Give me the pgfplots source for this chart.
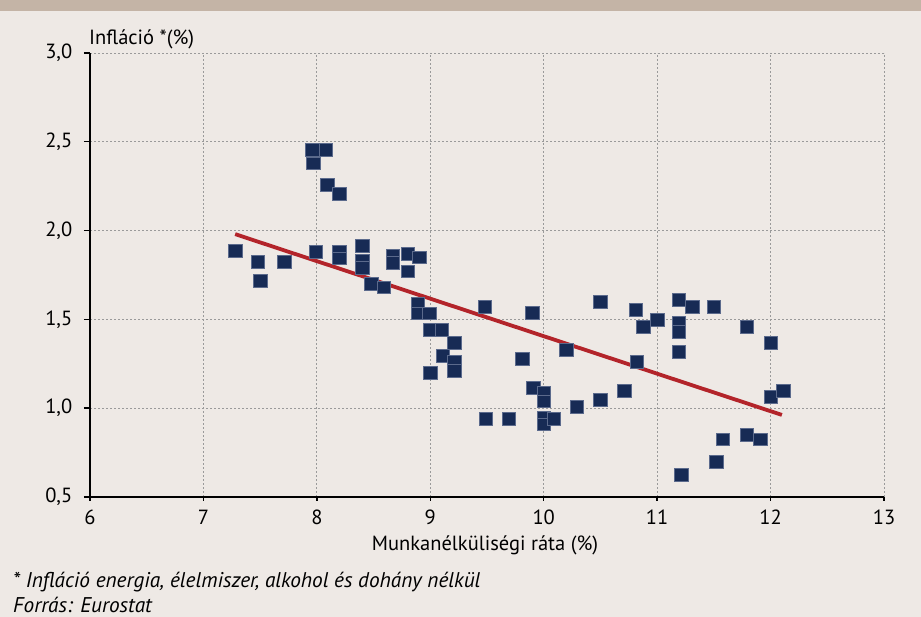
\documentclass[border=0pt]{standalone}
\usepackage{pgfplots}
\pgfplotsset{compat=1.18}
\usepackage{fontspec}
\setmainfont{PT Sans}
\definecolor{bg}{HTML}{EEE9E5}
\definecolor{band}{HTML}{C4B4A6}
\definecolor{navy}{HTML}{172B55}
\definecolor{navyedge}{HTML}{5B6A8C}
\definecolor{redline}{HTML}{B3242A}
\definecolor{gridc}{HTML}{9A9A9A}
\pgfplotstableread{
x y
7.28 1.885
7.48 1.823
7.50 1.716
7.71 1.823
7.96 2.454
8.08 2.454
7.97 2.38
8.09 2.257
8.20 2.206
7.99 1.88
8.20 1.88
8.20 1.845
8.40 1.913
8.40 1.834
8.40 1.79
8.67 1.86
8.67 1.82
8.80 1.87
8.90 1.85
8.80 1.77
8.48 1.70
8.59 1.68
8.89 1.59
8.89 1.535
8.99 1.535
9.00 1.44
9.10 1.44
9.21 1.37
9.11 1.295
9.21 1.26
9.21 1.21
9.00 1.20
9.48 1.57
9.90 1.536
9.81 1.277
10.20 1.33
9.91 1.114
10.00 1.086
10.00 1.04
9.49 0.94
9.69 0.94
10.00 0.95
10.00 0.91
10.09 0.94
10.29 1.007
10.50 1.046
10.50 1.60
10.81 1.553
10.88 1.46
10.82 1.26
10.71 1.097
11.00 1.497
11.19 1.61
11.31 1.57
11.19 1.48
11.19 1.43
11.19 1.317
11.50 1.57
11.79 1.457
12.00 1.37
12.00 1.063
12.11 1.097
11.58 0.826
11.79 0.849
11.91 0.826
11.52 0.697
11.21 0.624
}\scatterdata
\begin{document}
\begin{tikzpicture}[x=1bp,y=1bp,font=\fontsize{20.5bp}{23bp}\selectfont]
\fill[bg] (0,0) rectangle (921,617);
\fill[band] (0,606) rectangle (921,617);
\useasboundingbox (0,0) rectangle (921,617);
\begin{axis}[
  at={(90bp,120bp)}, anchor=south west,
  scale only axis, width=794bp, height=444bp,
  xmin=6, xmax=13, ymin=0.5, ymax=3.0,
  xtick={6,...,13}, ytick={0.5,1.0,1.5,2.0,2.5,3.0},
  axis x line*=bottom, axis y line*=left,
  axis line style={black, line width=1.6bp},
  tick style={black, line width=1.4bp},
  tick align=outside,
  xtick style={/pgfplots/major tick length=4bp},
  ytick style={/pgfplots/major tick length=6bp},
  grid=major,
  major grid style={gridc, line width=0.9bp, dash pattern=on 1.5bp off 2.5bp},
  /pgf/number format/assume math mode=true,
  y tick label style={/pgf/number format/use comma, /pgf/number format/fixed, /pgf/number format/fixed zerofill, /pgf/number format/precision=1},
  xticklabel style={yshift=-5bp},
  yticklabel style={xshift=-10bp},
  clip=false,
]
\addplot[only marks, mark=square*, mark size=6.3bp,
  mark options={fill=navy, draw=navyedge, line width=0.5bp, xscale=1.08}]
  table[x=x,y=y] {\scatterdata};
\addplot[redline, line width=3.8bp, no marks] coordinates {(7.28,1.98) (12.10,0.962)};
\end{axis}
\node[anchor=west, inner sep=0] at (89,578) {Infláció *(\%)};
\node[anchor=center, inner sep=0] at (485,72) {Munkanélküliségi ráta (\%)};
\node[anchor=west, inner sep=0] at (13,35) {\fontsize{21.3bp}{23bp}\selectfont\itshape * Infláció energia, élelmiszer, alkohol és dohány nélkül};
\node[anchor=west, inner sep=0] at (13,12) {\fontsize{21.3bp}{23bp}\selectfont\itshape Forrás: Eurostat};
\end{tikzpicture}
\end{document}
